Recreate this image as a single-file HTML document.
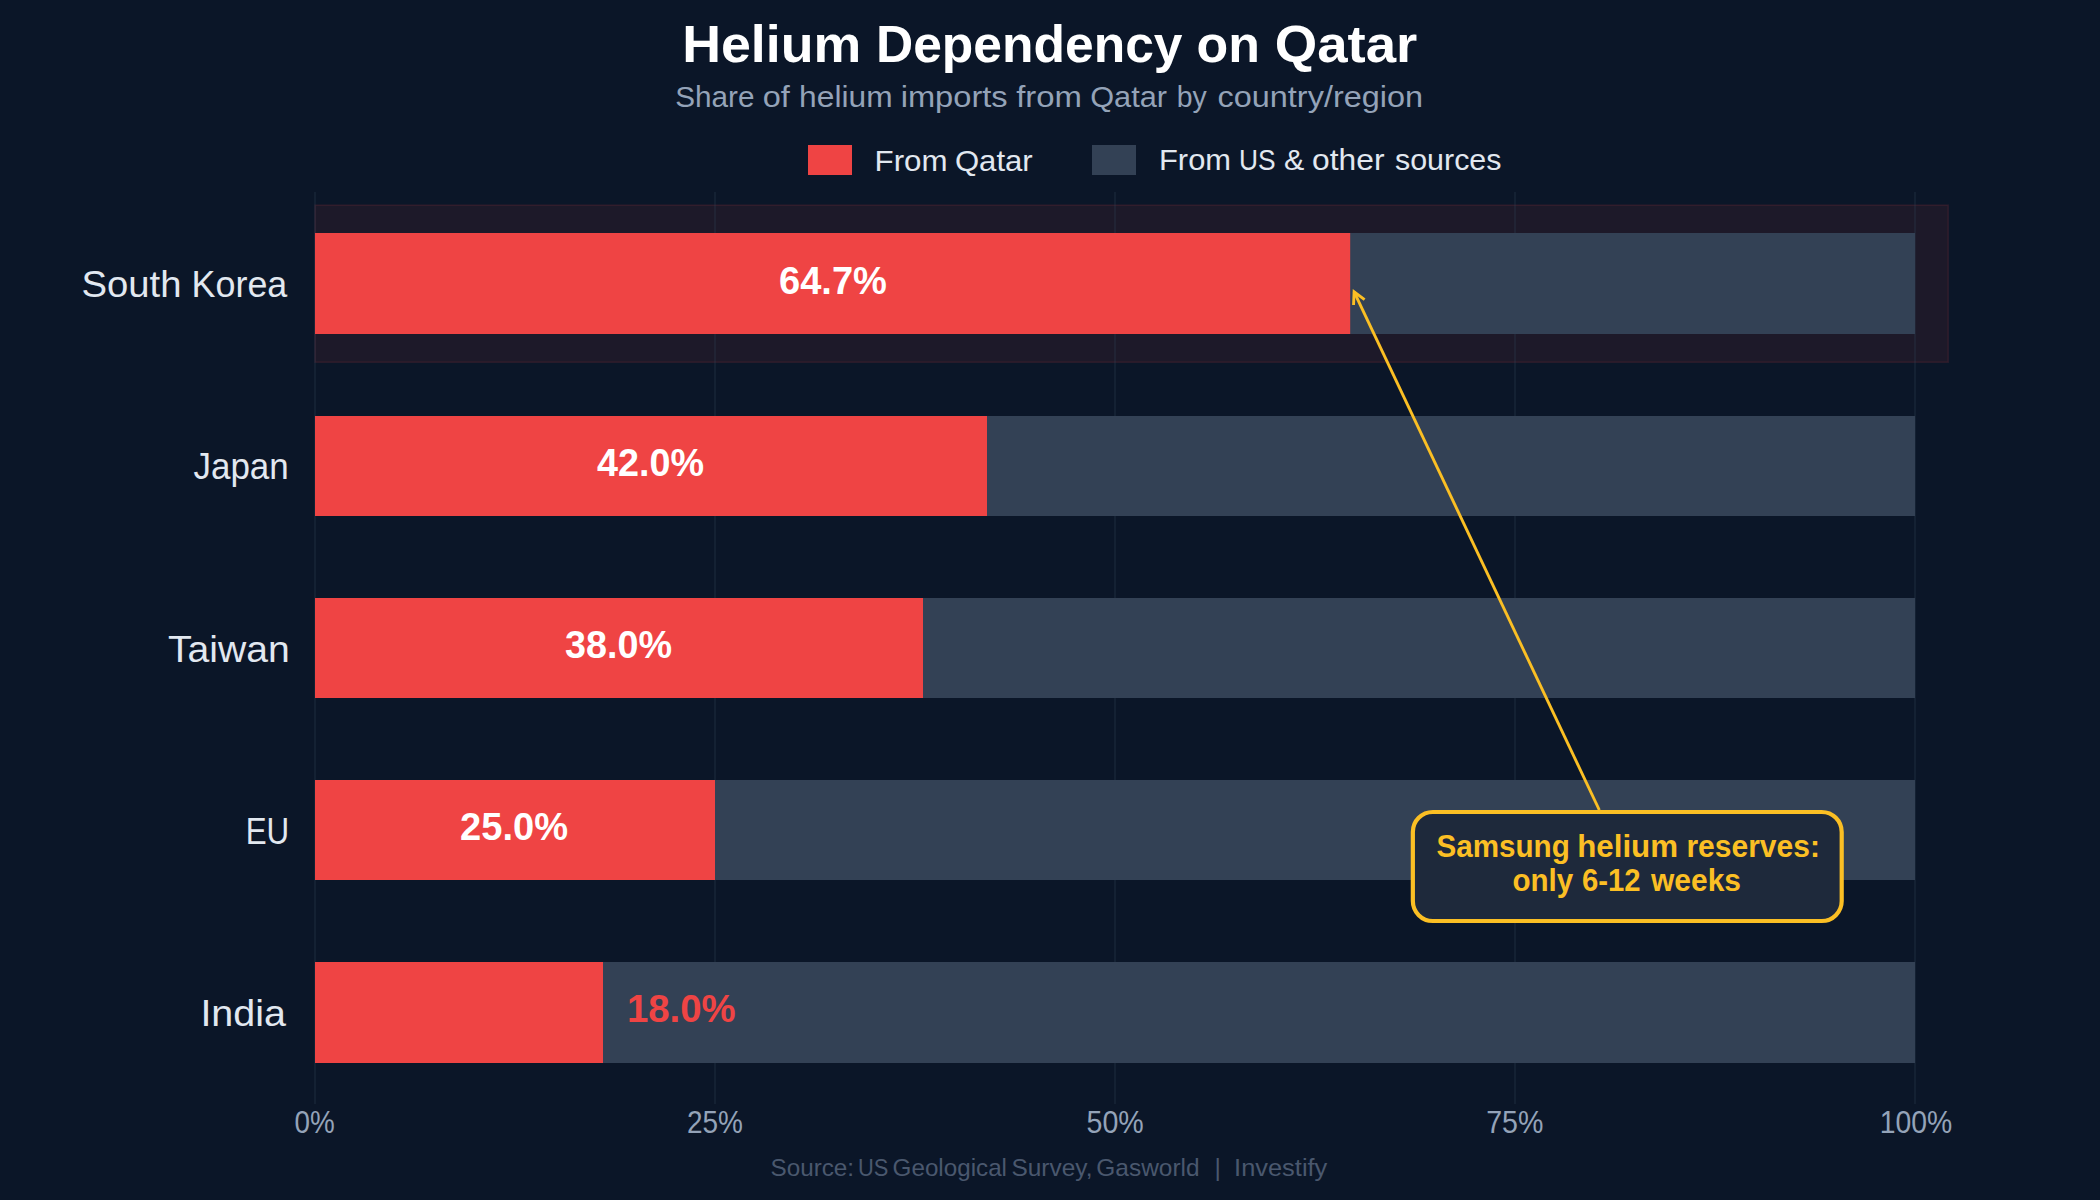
<!DOCTYPE html>
<html lang="en"><head><meta charset="utf-8"><title>Helium Dependency on Qatar</title>
<style>
html,body{margin:0;padding:0;background:#0b1628;}
body{width:2100px;height:1200px;overflow:hidden;}
svg{display:block;}
text{font-family:"Liberation Sans",sans-serif;}
</style></head><body>
<svg width="2100" height="1200" viewBox="0 0 2100 1200">
<rect x="0" y="0" width="2100" height="1200" fill="#0b1628"/>
<!-- highlight band -->
<rect x="315" y="205.2" width="1633.2" height="157" fill="#ef4444" fill-opacity="0.08" stroke="#ef4444" stroke-opacity="0.12" stroke-width="1.6"/>
<!-- gridlines -->
<rect x="314.15" y="192" width="1.7" height="912" fill="#334155" fill-opacity="0.3"/>
<rect x="714.15" y="192" width="1.7" height="912" fill="#334155" fill-opacity="0.3"/>
<rect x="1114.15" y="192" width="1.7" height="912" fill="#334155" fill-opacity="0.3"/>
<rect x="1514.15" y="192" width="1.7" height="912" fill="#334155" fill-opacity="0.3"/>
<rect x="1914.15" y="192" width="1.7" height="912" fill="#334155" fill-opacity="0.3"/>
<!-- bars -->
<rect x="315" y="233" width="1600" height="101" fill="#334155"/>
<rect x="315" y="233" width="1035.2" height="101" fill="#ef4444"/>
<rect x="315" y="416" width="1600" height="100" fill="#334155"/>
<rect x="315" y="416" width="672.0" height="100" fill="#ef4444"/>
<rect x="315" y="598" width="1600" height="100" fill="#334155"/>
<rect x="315" y="598" width="608.0" height="100" fill="#ef4444"/>
<rect x="315" y="780" width="1600" height="100" fill="#334155"/>
<rect x="315" y="780" width="400.0" height="100" fill="#ef4444"/>
<rect x="315" y="962" width="1600" height="101" fill="#334155"/>
<rect x="315" y="962" width="288.0" height="101" fill="#ef4444"/>
<!-- legend swatches -->
<rect x="808" y="145" width="44" height="30" fill="#ef4444"/>
<rect x="1092" y="145" width="44" height="30" fill="#334155"/>
<!-- annotation -->
<line x1="1599.3" y1="810" x2="1354.1" y2="291.8" stroke="#fbbf24" stroke-width="2.9"/>
<polyline points="1353.55,305 1354.1,291.8 1364.6,299.7" fill="none" stroke="#fbbf24" stroke-width="2.9" stroke-linejoin="miter" stroke-linecap="butt"/>
<rect x="1412.85" y="812" width="428.85" height="109" rx="20" ry="20" fill="#1e293b" stroke="#fbbf24" stroke-width="4.2"/>
<!-- text -->
<text y="62.1" font-size="51.7" font-weight="bold" fill="#ffffff"><tspan id="t_title_w0" x="682.2" textLength="179.1" lengthAdjust="spacingAndGlyphs">Helium</tspan> <tspan id="t_title_w1" x="875.9" textLength="306.6" lengthAdjust="spacingAndGlyphs">Dependency</tspan> <tspan id="t_title_w2" x="1196.5" textLength="63.4" lengthAdjust="spacingAndGlyphs">on</tspan> <tspan id="t_title_w3" x="1274.7" textLength="142.6" lengthAdjust="spacingAndGlyphs">Qatar</tspan></text>
<text y="107.4" font-size="29.9" font-weight="normal" fill="#94a3b8"><tspan id="t_sub_w0" x="675.3" textLength="79.2" lengthAdjust="spacingAndGlyphs">Share</tspan> <tspan id="t_sub_w1" x="762.7" textLength="27.1" lengthAdjust="spacingAndGlyphs">of</tspan> <tspan id="t_sub_w2" x="799.1" textLength="93.5" lengthAdjust="spacingAndGlyphs">helium</tspan> <tspan id="t_sub_w3" x="900.7" textLength="107.0" lengthAdjust="spacingAndGlyphs">imports</tspan> <tspan id="t_sub_w4" x="1016.2" textLength="65.8" lengthAdjust="spacingAndGlyphs">from</tspan> <tspan id="t_sub_w5" x="1090.2" textLength="76.8" lengthAdjust="spacingAndGlyphs">Qatar</tspan> <tspan id="t_sub_w6" x="1176.7" textLength="30.0" lengthAdjust="spacingAndGlyphs">by</tspan> <tspan id="t_sub_w7" x="1217.5" textLength="205.6" lengthAdjust="spacingAndGlyphs">country/region</tspan></text>
<text y="171.0" font-size="29.5" font-weight="normal" fill="#e2e8f0"><tspan id="t_leg1_w0" x="874.6" textLength="73.0" lengthAdjust="spacingAndGlyphs">From</tspan> <tspan id="t_leg1_w1" x="954.9" textLength="77.8" lengthAdjust="spacingAndGlyphs">Qatar</tspan></text>
<text y="170.0" font-size="29.5" font-weight="normal" fill="#e2e8f0"><tspan id="t_leg2_w0" x="1159.0" textLength="72.0" lengthAdjust="spacingAndGlyphs">From</tspan> <tspan id="t_leg2_w1" x="1239.1" textLength="36.6" lengthAdjust="spacingAndGlyphs">US</tspan> <tspan id="t_leg2_w2" x="1284.1" textLength="20.3" lengthAdjust="spacingAndGlyphs">&amp;</tspan> <tspan id="t_leg2_w3" x="1312.1" textLength="72.4" lengthAdjust="spacingAndGlyphs">other</tspan> <tspan id="t_leg2_w4" x="1395.0" textLength="106.5" lengthAdjust="spacingAndGlyphs">sources</tspan></text>
<text y="297.4" font-size="37.5" font-weight="normal" fill="#e2e8f0"><tspan id="t_y1_w0" x="81.5" textLength="100.0" lengthAdjust="spacingAndGlyphs">South</tspan> <tspan id="t_y1_w1" x="191.6" textLength="95.7" lengthAdjust="spacingAndGlyphs">Korea</tspan></text>
<text y="478.8" font-size="37.5" font-weight="normal" fill="#e2e8f0"><tspan id="t_y2_w0" x="193.5" textLength="95.2" lengthAdjust="spacingAndGlyphs">Japan</tspan></text>
<text y="662.0" font-size="37.5" font-weight="normal" fill="#e2e8f0"><tspan id="t_y3_w0" x="168.0" textLength="121.7" lengthAdjust="spacingAndGlyphs">Taiwan</tspan></text>
<text y="844.0" font-size="37.5" font-weight="normal" fill="#e2e8f0"><tspan id="t_y4_w0" x="245.7" textLength="43.5" lengthAdjust="spacingAndGlyphs">EU</tspan></text>
<text y="1026.0" font-size="37.5" font-weight="normal" fill="#e2e8f0"><tspan id="t_y5_w0" x="200.4" textLength="85.5" lengthAdjust="spacingAndGlyphs">India</tspan></text>
<text y="293.8" font-size="38.4" font-weight="bold" fill="#ffffff"><tspan id="t_v1_w0" x="779.0" textLength="107.9" lengthAdjust="spacingAndGlyphs">64.7%</tspan></text>
<text y="475.8" font-size="38.4" font-weight="bold" fill="#ffffff"><tspan id="t_v2_w0" x="596.9" textLength="107.1" lengthAdjust="spacingAndGlyphs">42.0%</tspan></text>
<text y="657.7" font-size="38.4" font-weight="bold" fill="#ffffff"><tspan id="t_v3_w0" x="565.0" textLength="107.1" lengthAdjust="spacingAndGlyphs">38.0%</tspan></text>
<text y="839.7" font-size="38.4" font-weight="bold" fill="#ffffff"><tspan id="t_v4_w0" x="460.1" textLength="107.9" lengthAdjust="spacingAndGlyphs">25.0%</tspan></text>
<text y="1022.0" font-size="38.4" font-weight="bold" fill="#ef4444"><tspan id="t_v5_w0" x="626.9" textLength="108.7" lengthAdjust="spacingAndGlyphs">18.0%</tspan></text>
<text y="1133.0" font-size="30.6" font-weight="normal" fill="#94a3b8"><tspan id="t_x1_w0" x="294.5" textLength="40.2" lengthAdjust="spacingAndGlyphs">0%</tspan></text>
<text y="1133.0" font-size="30.6" font-weight="normal" fill="#94a3b8"><tspan id="t_x2_w0" x="687.0" textLength="56.0" lengthAdjust="spacingAndGlyphs">25%</tspan></text>
<text y="1133.0" font-size="30.6" font-weight="normal" fill="#94a3b8"><tspan id="t_x3_w0" x="1086.5" textLength="57.2" lengthAdjust="spacingAndGlyphs">50%</tspan></text>
<text y="1133.0" font-size="30.6" font-weight="normal" fill="#94a3b8"><tspan id="t_x4_w0" x="1486.2" textLength="57.2" lengthAdjust="spacingAndGlyphs">75%</tspan></text>
<text y="1133.0" font-size="30.6" font-weight="normal" fill="#94a3b8"><tspan id="t_x5_w0" x="1879.8" textLength="72.5" lengthAdjust="spacingAndGlyphs">100%</tspan></text>
<text y="1176.0" font-size="24.6" font-weight="normal" fill="#4a586e"><tspan id="t_src_w0" x="770.5" textLength="83.6" lengthAdjust="spacingAndGlyphs">Source:</tspan> <tspan id="t_src_w1" x="857.9" textLength="30.4" lengthAdjust="spacingAndGlyphs">US</tspan> <tspan id="t_src_w2" x="892.6" textLength="114.4" lengthAdjust="spacingAndGlyphs">Geological</tspan> <tspan id="t_src_w3" x="1011.5" textLength="81.0" lengthAdjust="spacingAndGlyphs">Survey,</tspan> <tspan id="t_src_w4" x="1096.3" textLength="103.3" lengthAdjust="spacingAndGlyphs">Gasworld</tspan> <tspan id="t_src_w5" x="1214.5">|</tspan> <tspan id="t_src_w6" x="1234.1" textLength="93.2" lengthAdjust="spacingAndGlyphs">Investify</tspan></text>
<text y="856.7" font-size="31.5" font-weight="bold" fill="#fbbf24"><tspan id="t_a1_w0" x="1436.4" textLength="133.4" lengthAdjust="spacingAndGlyphs">Samsung</tspan> <tspan id="t_a1_w1" x="1577.2" textLength="100.9" lengthAdjust="spacingAndGlyphs">helium</tspan> <tspan id="t_a1_w2" x="1686.4" textLength="133.5" lengthAdjust="spacingAndGlyphs">reserves:</tspan></text>
<text y="890.7" font-size="31.5" font-weight="bold" fill="#fbbf24"><tspan id="t_a2_w0" x="1512.4" textLength="60.8" lengthAdjust="spacingAndGlyphs">only</tspan> <tspan id="t_a2_w1" x="1582.0" textLength="58.6" lengthAdjust="spacingAndGlyphs">6-12</tspan> <tspan id="t_a2_w2" x="1651.0" textLength="90.0" lengthAdjust="spacingAndGlyphs">weeks</tspan></text>
</svg></body></html>
